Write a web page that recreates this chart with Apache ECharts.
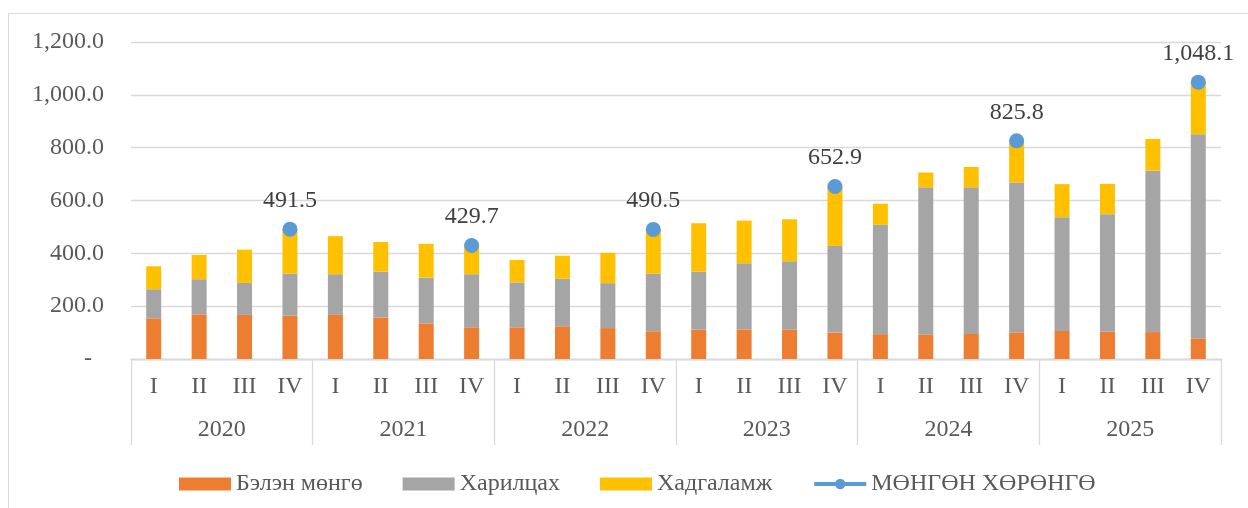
<!DOCTYPE html>
<html>
<head>
<meta charset="utf-8" />
<style>
  html, body { margin: 0; padding: 0; background: #fff; overflow: hidden; }
  #frame { position: absolute; left: 8px; top: 13px; width: 1400px; height: 600px; border: 1px solid #d9d9d9; }
  #main { position: absolute; left: 0; top: 0; width: 1248px; height: 508px; }
</style>
</head>
<body>
<div id="frame"></div>
<div id="main"></div>
<script src="https://cdn.jsdelivr.net/npm/echarts@6/dist/echarts.min.js"></script>
<script>
// data
var quarters = ["I", "II", "III", "IV", "I", "II", "III", "IV", "I", "II", "III", "IV",
                "I", "II", "III", "IV", "I", "II", "III", "IV", "I", "II", "III", "IV"];
var years = ["2020", "2021", "2022", "2023", "2024", "2025"];
var cash = [154, 169, 167, 164, 167, 157, 135, 120, 120, 124, 117, 105,
            111, 112, 112, 100, 94, 93, 95, 101, 106, 103, 102, 78];
var current = [110, 133, 121, 159, 154, 174, 173, 201, 170, 180, 170, 218,
               220, 250, 258, 328, 414, 557, 555, 567, 431, 445, 611, 773];
var savings = [87, 92, 126, 168.5, 144, 112, 128, 108.7, 85, 87, 115, 167.5,
               183, 162, 159, 224.9, 80, 56, 77, 157.8, 125, 115, 120, 197.1];
var total = [null, null, null, 491.5, null, null, null, 429.7, null, null, null, 490.5,
             null, null, null, 652.9, null, null, null, 825.8, null, null, null, 1048.1];
var yTicks = [0, 200, 400, 600, 800, 1000, 1200];

var font = '"Liberation Serif", "Times New Roman", serif';
var textColor = '#595959';
var lineColor = '#d9d9d9';

function fmt(v) {
  return v.toLocaleString('en-US', { minimumFractionDigits: 1, maximumFractionDigits: 1 });
}

var chart = echarts.init(document.getElementById('main'));
var option = {
  animation: false,
  backgroundColor: 'transparent',
  textStyle: { fontFamily: font },
  grid: { left: 131, right: 27, top: 42, bottom: 149, containLabel: false },
  legend: {
    left: 174,
    top: 467,
    itemWidth: 52,
    itemHeight: 13,
    itemGap: 40,
    textStyle: { fontSize: 24, color: textColor, fontFamily: font },
    data: [
      { name: 'Бэлэн мөнгө', icon: 'rect' },
      { name: 'Харилцах', icon: 'rect' },
      { name: 'Хадгаламж', icon: 'rect' },
      { name: 'МӨНГӨН ХӨРӨНГӨ', lineStyle: { width: 4, color: '#5b9bd5' } }
    ]
  },
  xAxis: [
    {
      type: 'category',
      data: quarters,
      axisLine: { show: true, lineStyle: { color: lineColor, width: 1.3 } },
      axisTick: { show: false },
      axisLabel: { fontSize: 24, color: textColor, fontFamily: font, margin: 16, interval: 0 }
    },
    {
      type: 'category',
      data: years,
      position: 'bottom',
      axisLine: { show: true, lineStyle: { color: lineColor, width: 1.3 } },
      axisTick: { show: true, length: 86, interval: 0, lineStyle: { color: lineColor, width: 1.3 } },
      axisLabel: { fontSize: 24, color: textColor, fontFamily: font, margin: 59, interval: 0 }
    }
  ],
  yAxis: {
    type: 'value',
    min: yTicks[0],
    max: yTicks[yTicks.length - 1],
    interval: 200,
    axisLine: { show: false },
    axisTick: { show: false },
    splitLine: { lineStyle: { color: lineColor, width: 1.3 } },
    axisLabel: {
      fontSize: 24, color: textColor, fontFamily: font, margin: 27,
      formatter: function (v) { return v === 0 ? '-  ' : fmt(v); }
    }
  },
  series: [
    {
      name: 'Бэлэн мөнгө', type: 'bar', stack: 'a', barWidth: 15,
      itemStyle: { color: '#ed7d31' }, data: cash
    },
    {
      name: 'Харилцах', type: 'bar', stack: 'a', barWidth: 15,
      itemStyle: { color: '#a5a5a5' }, data: current
    },
    {
      name: 'Хадгаламж', type: 'bar', stack: 'a', barWidth: 15,
      itemStyle: { color: '#ffc000' }, data: savings
    },
    {
      name: 'МӨНГӨН ХӨРӨНГӨ', type: 'line', connectNulls: false,
      symbol: 'circle', symbolSize: 15,
      itemStyle: { color: '#5b9bd5' },
      lineStyle: { color: '#5b9bd5', width: 4 },
      label: {
        show: true, position: 'top', distance: 9,
        fontSize: 24, color: '#404040', fontFamily: font,
        formatter: function (p) { return fmt(p.value); }
      },
      z: 5,
      data: total
    }
  ]
};
chart.setOption(option);
</script>
</body>
</html>
